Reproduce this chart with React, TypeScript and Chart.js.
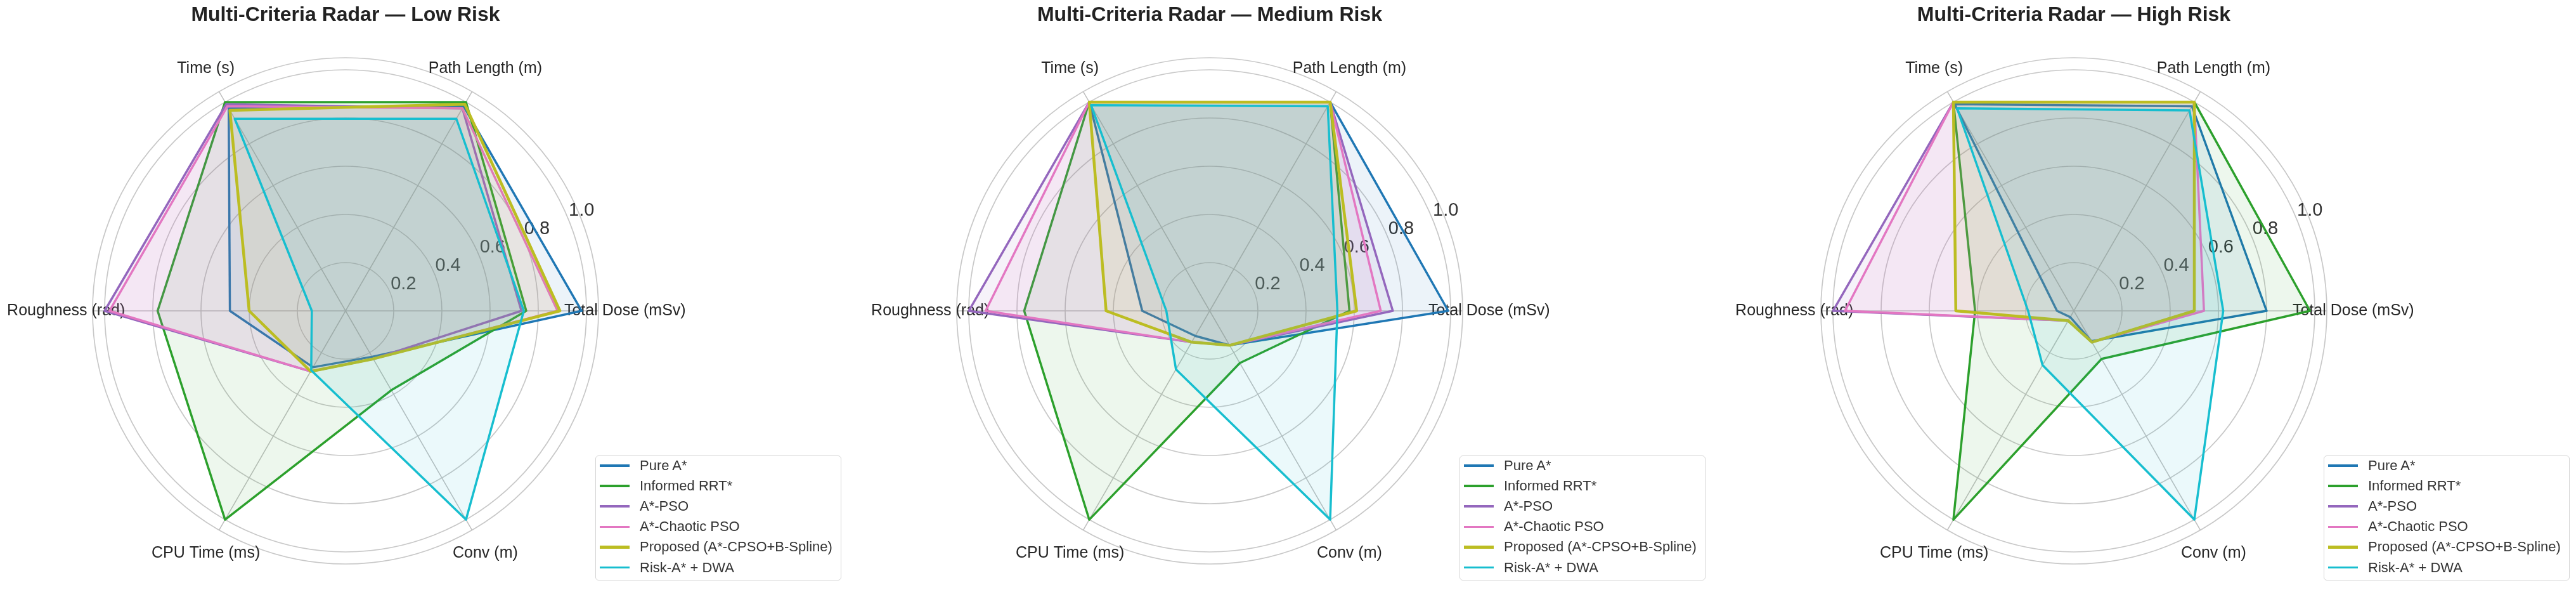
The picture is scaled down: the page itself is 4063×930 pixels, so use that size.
import React, { useEffect, useRef } from 'react';
import { Chart, registerables } from 'chart.js';

Chart.register(...registerables);

// axes in Chart.js (clockwise from the right) order
const axisLabels = ['Total Dose (mSv)', 'Conv (m)', 'CPU Time (ms)', 'Roughness (rad)', 'Time (s)', 'Path Length (m)'];
const methods = ['Pure A*', 'Informed RRT*', 'A*-PSO', 'A*-Chaotic PSO', 'Proposed (A*-CPSO+B-Spline)', 'Risk-A* + DWA'];
const riskTitles = ['Multi-Criteria Radar — Low Risk', 'Multi-Criteria Radar — Medium Risk', 'Multi-Criteria Radar — High Risk'];
const rTicks = [0.2, 0.4, 0.6, 0.8, 1.0];
const gridValues = [0, 0.2, 0.4, 0.6, 0.8, 1.0, 1.05];

// one row per method: TD, Conv, CPU, Roughness, Time, Path Length
const lowRisk = [
  [0.98, 0.22, 0.27, 0.48, 0.97, 0.98],
  [0.75, 0.38, 1.0, 0.78, 1.0, 1.0],
  [0.73, 0.23, 0.29, 1.0, 0.99, 0.97],
  [0.88, 0.23, 0.29, 0.98, 0.98, 0.97],
  [0.89, 0.23, 0.29, 0.4, 0.96, 0.99],
  [0.74, 1.0, 0.285, 0.14, 0.92, 0.92],
];
const mediumRisk = [
  [0.99, 0.165, 0.12, 0.28, 1.0, 1.0],
  [0.58, 0.25, 1.0, 0.77, 1.0, 1.0],
  [0.76, 0.165, 0.15, 1.0, 1.0, 1.0],
  [0.71, 0.165, 0.15, 0.93, 1.0, 1.0],
  [0.61, 0.165, 0.15, 0.43, 1.0, 1.0],
  [0.53, 1.0, 0.28, 0.18, 0.985, 0.98],
];
const highRisk = [
  [0.8, 0.145, 0.03, 0.07, 0.99, 0.98],
  [0.98, 0.23, 1.0, 0.41, 1.0, 1.0],
  [0.5, 0.15, 0.047, 1.0, 1.0, 1.0],
  [0.54, 0.15, 0.047, 0.95, 1.0, 1.0],
  [0.5, 0.15, 0.047, 0.49, 1.0, 1.0],
  [0.62, 1.0, 0.26, 0.19, 0.97, 0.96],
];
const riskValues = [lowRisk, mediumRisk, highRisk];

const colors = ['#1f77b4', '#2ca02c', '#9467bd', '#e377c2', '#bcbd22', '#17becf'];
const lineWidths = [3.5, 3.5, 3.5, 3.5, 4.5, 3.5];

const FONT = '"Liberation Sans", Arial, Helvetica, sans-serif';
const PANEL_W = 1363;
const PANEL_H = 930;

function rgba(hex: string, a: number) {
  const n = parseInt(hex.slice(1), 16);
  return `rgba(${(n >> 16) & 255}, ${(n >> 8) & 255}, ${n & 255}, ${a})`;
}

// axis names and r tick labels, drawn under the polygons like matplotlib does
const radarText = {
  id: 'radarText',
  beforeDatasetsDraw(chart: any) {
    const scale = chart.scales.r;
    const ctx = chart.ctx;
    const unit = scale.getDistanceFromCenterForValue(1);
    ctx.save();
    ctx.fillStyle = '#262626';
    ctx.font = `25px ${FONT}`;
    ctx.textAlign = 'center';
    ctx.textBaseline = 'middle';
    chart.data.labels.forEach((lab: string, i: number) => {
      const p = scale.getPointPosition(i, unit * 1.16);
      ctx.fillText(lab, p.x, p.y);
    });
    ctx.fillStyle = '#333333';
    ctx.font = `29px ${FONT}`;
    ctx.textAlign = 'left';
    ctx.textBaseline = 'alphabetic';
    const a = (22.5 * Math.PI) / 180;
    rTicks.forEach((v) => {
      const d = scale.getDistanceFromCenterForValue(v);
      ctx.fillText(v.toFixed(1), scale.xCenter + d * Math.cos(a) + 1, scale.yCenter - d * Math.sin(a) - 5);
    });
    ctx.restore();
  },
};

function RadarPanel({ title, values, left }: { title: string; values: number[][]; left: number }) {
  const canvasRef = useRef<HTMLCanvasElement | null>(null);

  useEffect(() => {
    const canvas = canvasRef.current;
    if (!canvas) return;
    const chart = new Chart(canvas, {
      type: 'radar',
      data: {
        labels: axisLabels,
        datasets: methods.map((m, i) => ({
          label: m,
          data: values[i],
          borderColor: colors[i],
          backgroundColor: rgba(colors[i], 0.085),
          borderWidth: lineWidths[i],
          borderJoinStyle: 'round' as const,
          pointRadius: 0,
          pointHoverRadius: 0,
          fill: true,
          order: methods.length - i,
        })),
      },
      options: {
        responsive: false,
        animation: false,
        layout: { padding: { left: 146, right: PANEL_W - 944, top: 0, bottom: 40 } },
        elements: { line: { tension: 0 } },
        scales: {
          r: {
            min: 0,
            max: 1.05,
            startAngle: 90,
            ticks: { display: false, stepSize: 0.2 },
            afterBuildTicks: (scale: any) => {
              scale.ticks = gridValues.map((v) => ({ value: v }));
            },
            grid: { circular: true, color: '#c8c8c8', lineWidth: 1.7 },
            angleLines: { color: '#c0c0c0', lineWidth: 1.6 },
            pointLabels: { display: false },
          },
        },
        plugins: {
          legend: { display: false },
          tooltip: { enabled: false },
          title: {
            display: true,
            text: title,
            color: '#222222',
            font: { family: FONT, size: 32, weight: 'bold' },
            padding: { top: 5, bottom: 48 },
          },
        },
      },
      plugins: [radarText],
    });
    return () => {
      chart.destroy();
    };
  }, [title, values]);

  return (
    <div style={{ position: 'absolute', left, top: 0, width: PANEL_W, height: PANEL_H }}>
      <canvas ref={canvasRef} width={PANEL_W} height={PANEL_H} style={{ width: PANEL_W, height: PANEL_H, display: 'block' }} />
      <div
        style={{
          position: 'absolute',
          left: 939,
          top: 718,
          width: 388,
          height: 197,
          boxSizing: 'border-box',
          border: '1.5px solid #d4d4d4',
          borderRadius: 5,
          background: 'rgba(255,255,255,0.85)',
          font: `22px ${FONT}`,
          color: '#333333',
        }}
      >
        {methods.map((m, i) => (
          <div
            key={m}
            style={{
              position: 'absolute',
              left: 0,
              top: 15 + 32.1 * i - 16,
              height: 32,
              display: 'flex',
              alignItems: 'center',
              whiteSpace: 'nowrap',
            }}
          >
            <span style={{ display: 'inline-block', marginLeft: 6, width: 47, height: lineWidths[i], background: colors[i] }} />
            <span style={{ marginLeft: 16 }}>{m}</span>
          </div>
        ))}
      </div>
    </div>
  );
}

export default function App() {
  useEffect(() => {
    document.body.style.margin = '0';
  }, []);

  return (
    <div style={{ position: 'relative', width: 4063, height: 930, overflow: 'hidden', background: '#ffffff' }}>
      {riskTitles.map((t, k) => (
        <RadarPanel key={t} title={t} values={riskValues[k]} left={k * PANEL_W} />
      ))}
    </div>
  );
}
